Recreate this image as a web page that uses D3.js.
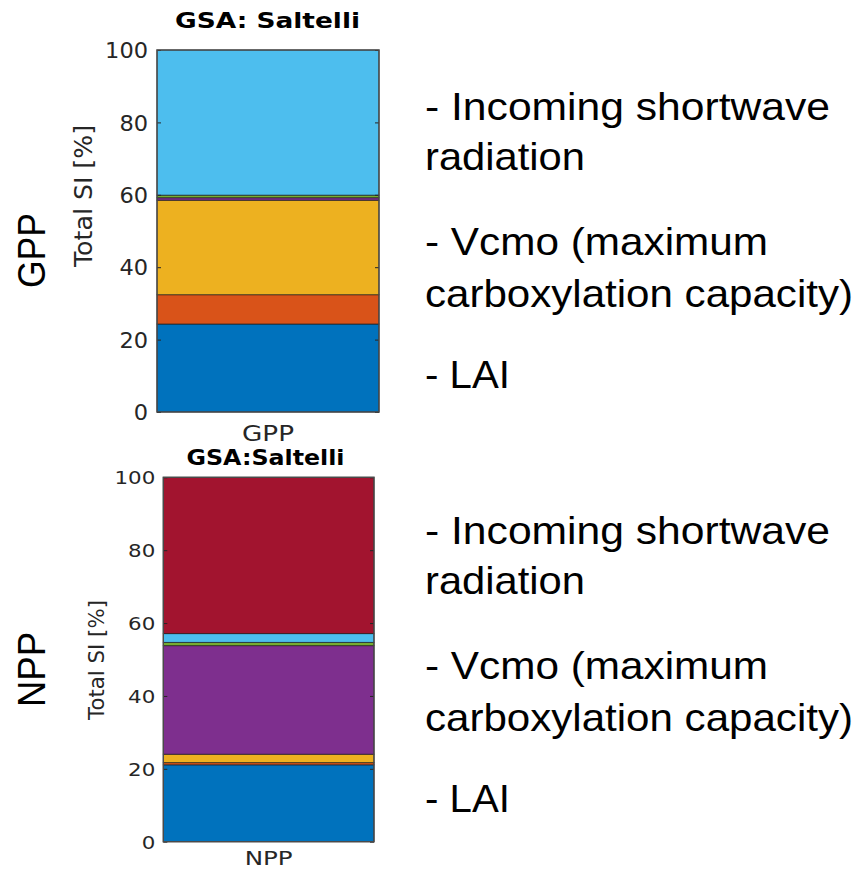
<!DOCTYPE html>
<html>
<head>
<meta charset="utf-8">
<script src="https://cdn.jsdelivr.net/npm/d3@7"></script>
<style>
  html, body { margin: 0; padding: 0; background: #fff; }
  svg { display: block; }
</style>
</head>
<body>
<svg id="chart" width="859" height="870"></svg>
<script>
// ---------- DATA ----------
const categories = ["GPP", "NPP"];
const parameters = ["p1", "p2", "p3", "p4", "p5", "p6", "p7"];
const seriesColors = ["#0072BD", "#D95319", "#EDB120", "#7E2F8E", "#77AC30", "#4DBEEE", "#A2142F"];
const gppValues = [24.3, 8.1, 26.1, 0.7, 0.7, 40.1, 0.0];
const nppValues = [21.1, 0.6, 2.3, 29.8, 0.9, 2.4, 42.9];
const panelTitles = ["GSA: Saltelli", "GSA:Saltelli"];
const yTicks = [0, 20, 40, 60, 80, 100];
const yLabel = "Total SI [%]";
const noteLines = ["- Incoming shortwave", "radiation", "- Vcmo (maximum", "carboxylation capacity)", "- LAI"];

// ---------- LAYOUT (positions & styles only) ----------
const panels = [
  { cat: categories[0], values: gppValues, title: panelTitles[0],
    x0: 157, x1: 379, y0: 50, y1: 412,
    tickFont: 21.5, digitW: 14.3, tickGap: 9,
    titleY: 28.3, titleSize: 21.5, titleW: 185, titleX: 267.5,
    xlabY: 441, xlabSize: 20.5, xlabW: 52,
    ylabX: 92, ylabY: 196, ylabSize: 24.5, ylabW: 142,
    bigX: 45, bigY: 250.5, noteDy: 0 },
  { cat: categories[1], values: nppValues, title: panelTitles[1],
    x0: 163.3, x1: 374, y0: 477.3, y1: 841.7,
    tickFont: 18.5, digitW: 13.6, tickGap: 8,
    titleY: 465, titleSize: 20.5, titleW: 158, titleX: 265.5,
    xlabY: 865, xlabSize: 20, xlabW: 48,
    ylabX: 104, ylabY: 660, ylabSize: 22, ylabW: 120,
    bigX: 45, bigY: 669.5, noteDy: 423.5 }
];
const noteBase = [120, 170, 255, 307, 388];
const noteW = [405, 160, 343, 428, 85];
const noteX = 425;

const svg = d3.select("#chart");
const axisFont = "'DejaVu Sans', sans-serif";
const noteFont = "'Liberation Sans', Arial, sans-serif";

panels.forEach(p => {
  const g = svg.append("g");
  const x = d3.scaleBand().domain([p.cat]).range([p.x0, p.x1]).padding(0);
  const y = d3.scaleLinear().domain([0, 100]).range([p.y1, p.y0]);

  // stacked segments
  const row = {};
  parameters.forEach((k, i) => row[k] = p.values[i]);
  const stack = d3.stack().keys(parameters)([row]);
  g.selectAll("rect.seg").data(stack).join("rect")
    .attr("class", "seg")
    .attr("x", x(p.cat))
    .attr("width", x.bandwidth())
    .attr("y", d => y(d[0][1]))
    .attr("height", d => Math.max(0, y(d[0][0]) - y(d[0][1])))
    .attr("fill", (d, i) => seriesColors[i])
    .attr("stroke", "#1a1a1a")
    .attr("stroke-opacity", d => (d[0][1] - d[0][0]) > 0 ? 0.75 : 0)
    .attr("stroke-width", 0.9);

  // axes
  const yAxisL = d3.axisLeft(y).tickValues(yTicks).tickSize(-4);
  const ga = g.append("g").attr("transform", `translate(${p.x0},0)`).call(yAxisL);
  ga.select(".domain").remove();
  ga.selectAll(".tick line").attr("stroke", "#262626").attr("stroke-width", 1);
  ga.selectAll(".tick text")
    .attr("x", -p.tickGap)
    .attr("font-family", axisFont)
    .attr("font-size", p.tickFont)
    .attr("fill", "#262626")
    .attr("dy", "0.36em")
    .attr("textLength", d => String(d).length * p.digitW)
    .attr("lengthAdjust", "spacingAndGlyphs");

  const yAxisR = d3.axisRight(y).tickValues(yTicks).tickSize(-4).tickFormat("");
  const gr = g.append("g").attr("transform", `translate(${p.x1},0)`).call(yAxisR);
  gr.select(".domain").remove();
  gr.selectAll(".tick line").attr("stroke", "#262626").attr("stroke-width", 1);

  // box
  g.append("rect")
    .attr("x", p.x0).attr("y", p.y0)
    .attr("width", p.x1 - p.x0).attr("height", p.y1 - p.y0)
    .attr("fill", "none").attr("stroke", "#4a4a4a").attr("stroke-width", 1.4);

  // x label (category tick)
  g.append("text")
    .attr("x", x(p.cat) + x.bandwidth() / 2).attr("y", p.xlabY)
    .attr("text-anchor", "middle")
    .attr("font-family", axisFont).attr("font-size", p.xlabSize)
    .attr("fill", "#262626")
    .attr("textLength", p.xlabW).attr("lengthAdjust", "spacingAndGlyphs")
    .text(p.cat);

  // title
  g.append("text")
    .attr("x", p.titleX).attr("y", p.titleY)
    .attr("text-anchor", "middle")
    .attr("font-family", axisFont).attr("font-weight", "bold")
    .attr("font-size", p.titleSize).attr("fill", "#000")
    .attr("textLength", p.titleW).attr("lengthAdjust", "spacingAndGlyphs")
    .text(p.title);

  // y label
  g.append("text")
    .attr("transform", `translate(${p.ylabX},${p.ylabY}) rotate(-90)`)
    .attr("text-anchor", "middle")
    .attr("font-family", axisFont).attr("font-size", p.ylabSize)
    .attr("fill", "#262626")
    .attr("textLength", p.ylabW).attr("lengthAdjust", "spacingAndGlyphs")
    .text(yLabel);

  // big side label
  g.append("text")
    .attr("transform", `translate(${p.bigX},${p.bigY}) rotate(-90)`)
    .attr("text-anchor", "middle")
    .attr("font-family", noteFont).attr("font-size", 38)
    .attr("fill", "#000")
    .attr("textLength", 75).attr("lengthAdjust", "spacingAndGlyphs")
    .text(p.cat);

  // notes
  g.selectAll("text.note").data(noteLines).join("text")
    .attr("class", "note")
    .attr("x", noteX)
    .attr("y", (d, i) => noteBase[i] + p.noteDy)
    .attr("font-family", noteFont).attr("font-size", 39.5)
    .attr("fill", "#000")
    .attr("textLength", (d, i) => noteW[i]).attr("lengthAdjust", "spacingAndGlyphs")
    .text(d => d);
});
</script>
</body>
</html>
